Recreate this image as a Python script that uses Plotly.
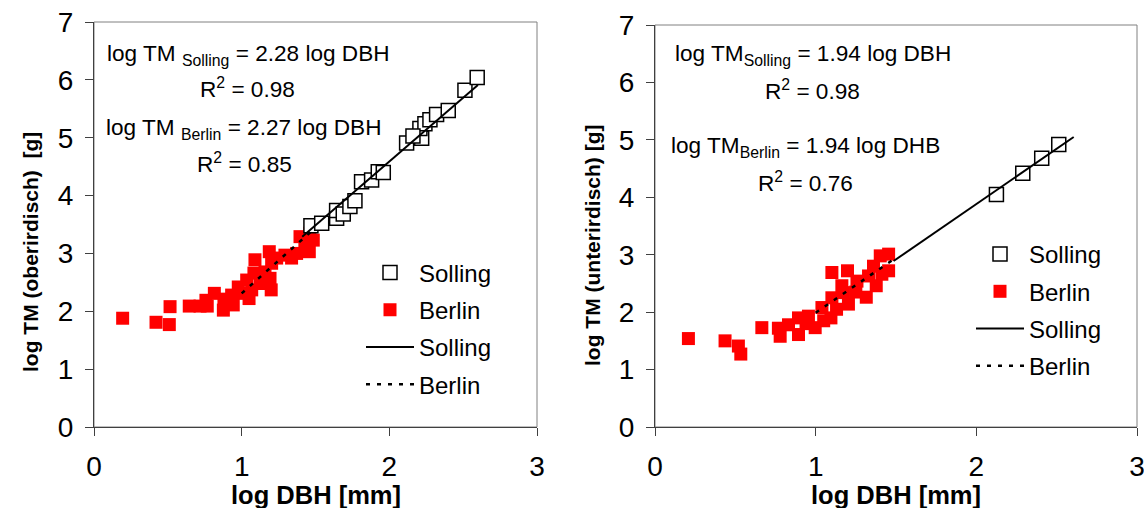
import plotly.graph_objects as go

W, H = 1144, 508

# ---------------- data ----------------
# Left panel: above-ground (oberirdisch)
sol_L_x = [1.469, 1.542, 1.643, 1.643, 1.688, 1.733, 1.767, 1.812, 1.880, 1.925, 1.959,
           2.117, 2.219, 2.207, 2.241, 2.275, 2.160, 2.320, 2.399, 2.512, 2.595]
sol_L_y = [3.48, 3.52, 3.61, 3.74, 3.68, 3.81, 3.91, 4.24, 4.27, 4.41, 4.40,
           4.91, 4.99, 5.16, 5.24, 5.31, 5.03, 5.40, 5.47, 5.82, 6.04]
ber_L_x = [0.194, 0.420, 0.510, 0.515, 0.645, 0.718, 0.767, 0.758, 0.815, 0.876, 0.880,
           0.932, 0.943, 0.977, 1.011, 1.034, 1.068, 1.083, 1.090, 1.124, 1.158, 1.192,
           1.187, 1.203, 1.237, 1.293, 1.338, 1.372, 1.395, 1.428, 1.458, 1.462, 1.485,
           1.200, 1.050]
ber_L_y = [1.88, 1.81, 1.77, 2.08, 2.09, 2.09, 2.09, 2.19, 2.31, 2.02, 2.21,
           2.28, 2.11, 2.42, 2.31, 2.54, 2.37, 2.66, 2.89, 2.48, 2.68, 2.57,
           3.03, 2.83, 2.92, 2.97, 2.92, 3.00, 3.29, 3.17, 3.03, 3.35, 3.23,
           2.37, 2.22]
fit_sol_L_x = [1.41, 2.60]
fit_sol_L_y = [3.29, 5.91]
fit_ber_L_x = [1.00, 1.48]
fit_ber_L_y = [2.31, 3.40]

# Right panel: below-ground (unterirdisch)
sol_R_x = [2.125, 2.289, 2.407, 2.513]
sol_R_y = [4.05, 4.42, 4.68, 4.92]
ber_R_x = [0.208, 0.436, 0.519, 0.534, 0.665, 0.768, 0.779, 0.831, 0.893, 0.893, 0.955,
           0.997, 1.039, 1.101, 1.095, 1.163, 1.204, 1.101, 1.198, 1.173, 1.257, 1.315,
           1.329, 1.360, 1.402, 1.454, 1.454, 1.412, 1.377, 0.940, 1.050, 1.130, 1.250]
ber_R_y = [1.54, 1.50, 1.41, 1.27, 1.73, 1.72, 1.58, 1.78, 1.61, 1.90, 1.93,
           1.73, 2.08, 2.25, 1.90, 2.46, 2.14, 2.69, 2.72, 2.34, 2.54, 2.26,
           2.63, 2.80, 2.98, 3.01, 2.72, 2.66, 2.46, 1.80, 1.85, 2.05, 2.35]
fit_sol_R_x = [1.485, 2.606]
fit_sol_R_y = [2.89, 5.05]
fit_ber_R_x = [1.00, 1.485]
fit_ber_R_y = [1.99, 2.92]

x_ticks = [0, 1, 2, 3]
y_ticks = [0, 1, 2, 3, 4, 5, 6, 7]

FONT = "Liberation Sans, Arial, Helvetica, sans-serif"
RED = "#FF0000"

def px(x):
    return x / W

def py(y):
    return 1 - y / H

fig = go.Figure()

def add_panel(sx, sy, bx, by, fsx, fsy, fbx, fby, xa, ya, leg, tag):
    fig.add_trace(go.Scatter(x=bx, y=by, mode="markers", name="Berlin", legend=leg,
                             xaxis=xa, yaxis=ya, legendrank=2, legendgroup=tag + "b",
                             marker=dict(symbol="square", size=13, color=RED,
                                         line=dict(width=0))))
    fig.add_trace(go.Scatter(x=sx, y=sy, mode="markers", name="Solling", legend=leg,
                             xaxis=xa, yaxis=ya, legendrank=1, legendgroup=tag + "a",
                             marker=dict(symbol="square", size=14, color="white",
                                         line=dict(width=1.5, color="black"))))
    fig.add_trace(go.Scatter(x=fsx, y=fsy, mode="lines", name="Solling", legend=leg,
                             xaxis=xa, yaxis=ya, legendrank=3, legendgroup=tag + "c",
                             line=dict(color="black", width=2)))
    fig.add_trace(go.Scatter(x=fbx, y=fby, mode="lines", name="Berlin", legend=leg,
                             xaxis=xa, yaxis=ya, legendrank=4, legendgroup=tag + "d",
                             line=dict(color="black", width=2.5, dash="4px,7px")))

add_panel(sol_L_x, sol_L_y, ber_L_x, ber_L_y, fit_sol_L_x, fit_sol_L_y,
          fit_ber_L_x, fit_ber_L_y, "x", "y", "legend", "L")
add_panel(sol_R_x, sol_R_y, ber_R_x, ber_R_y, fit_sol_R_x, fit_sol_R_y,
          fit_ber_R_x, fit_ber_R_y, "x2", "y2", "legend2", "R")

axis_common = dict(showgrid=False, zeroline=False, showline=True, linecolor="#404040",
                   linewidth=1, ticks="outside", ticklen=8, tickcolor="#404040",
                   automargin=False, ticklabeloverflow="allow",
                   tickfont=dict(family=FONT, size=28, color="black"), dtick=1)

leg_common = dict(xanchor="left", yanchor="top",
                  font=dict(family=FONT, size=24), bgcolor="rgba(0,0,0,0)",
                  itemwidth=48, tracegroupgap=3, traceorder="grouped")

fig.update_layout(
    width=W, height=H, margin=dict(l=0, r=0, t=0, b=0, autoexpand=False),
    paper_bgcolor="white", plot_bgcolor="white",
    font=dict(family=FONT, color="black"),
    xaxis=dict(domain=[px(94), px(537)], range=[0, 3], anchor="y",
               tickvals=x_ticks, ticklabelstandoff=6, **axis_common),
    yaxis=dict(domain=[py(427), py(22)], range=[0, 7], anchor="x",
               tickvals=y_ticks, ticklabelstandoff=6, **axis_common),
    xaxis2=dict(domain=[px(655), px(1137)], range=[0, 3], anchor="y2",
                tickvals=x_ticks, ticklabelstandoff=6, **axis_common),
    yaxis2=dict(domain=[py(427), py(25)], range=[0, 7], anchor="x2",
                tickvals=y_ticks, ticklabelstandoff=6, **axis_common),
    legend=dict(x=px(361), y=py(250.5), **leg_common),
    legend2=dict(x=px(971), y=py(232), **leg_common),
)

# plot-area frames (top/right in grey)
for xr, yr in (("x domain", "y domain"), ("x2 domain", "y2 domain")):
    fig.add_shape(type="rect", xref=xr, yref=yr, x0=0, x1=1, y0=0, y1=1,
                  line=dict(color="#808080", width=1), layer="below")

ann_font = dict(family=FONT, size=22.6, color="black")
texts = [
    ("log TM <sub>Solling</sub> = 2.28 log DBH", 105, 55, "left"),
    ("R<sup>2</sup> = 0.98", 247, 88, "center"),
    ("log TM <sub>Berlin</sub> = 2.27 log DBH", 104, 129, "left"),
    ("R<sup>2</sup> = 0.85", 244, 163, "center"),
    ("log TM<sub>Solling</sub> = 1.94 log DBH", 673, 55, "left"),
    ("R<sup>2</sup> = 0.98", 812, 90, "center"),
    ("log TM<sub>Berlin</sub> = 1.94 log DHB", 669, 147, "left"),
    ("R<sup>2</sup> = 0.76", 805, 182, "center"),
]
for t, x, y, anc in texts:
    fig.add_annotation(text=t, x=px(x), y=py(y), xref="paper", yref="paper",
                       xanchor=anc, yanchor="middle", showarrow=False, font=ann_font)

title_font = dict(family=FONT, size=25.5, color="black")
fig.add_annotation(text="<b>log DBH [mm]</b>", x=px(316), y=py(495), xref="paper",
                   yref="paper", xanchor="center", yanchor="middle", showarrow=False,
                   font=title_font)
fig.add_annotation(text="<b>log DBH [mm]</b>", x=px(896), y=py(495), xref="paper",
                   yref="paper", xanchor="center", yanchor="middle", showarrow=False,
                   font=title_font)
ytitle_font = dict(family=FONT, size=21, color="black")
fig.add_annotation(text="<b>log TM (oberirdisch)  [g]</b>", x=px(30), y=py(252),
                   xref="paper", yref="paper", xanchor="center", yanchor="middle",
                   textangle=-90, showarrow=False, font=ytitle_font)
fig.add_annotation(text="<b>log TM (unterirdisch) [g]</b>", x=px(592), y=py(246),
                   xref="paper", yref="paper", xanchor="center", yanchor="middle",
                   textangle=-90, showarrow=False, font=ytitle_font)

fig.write_html("out.html")
